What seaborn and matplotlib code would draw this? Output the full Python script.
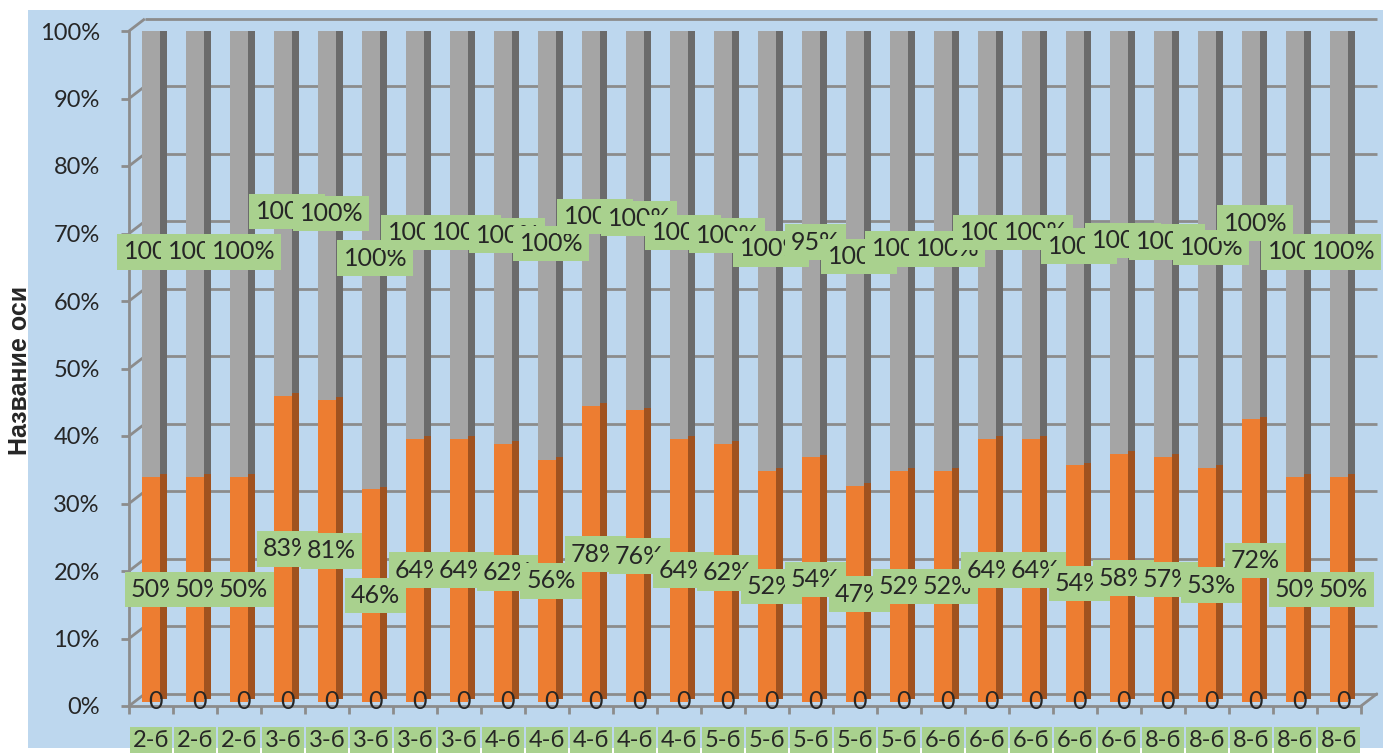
import matplotlib.pyplot as plt
import pandas as pd
import seaborn as sns
from matplotlib.patches import Rectangle

# Data
classes = (['2-б'] * 3 + ['3-б'] * 5 + ['4-б'] * 5
           + ['5-б'] * 5 + ['6-б'] * 5 + ['8-б'] * 5)
zero_vals = [0] * 28
orange_vals = [50, 50, 50, 83, 81, 46, 64, 64, 62, 56, 78, 76, 64, 62,
               52, 54, 47, 52, 52, 64, 64, 54, 58, 57, 53, 72, 50, 50]
gray_vals = [100] * 15 + [95] + [100] * 12
pct_ticks = [0, 10, 20, 30, 40, 50, 60, 70, 80, 90, 100]

# Colours
BLUE = '#BDD7EE'
ORANGE = '#ED7D31'
ORANGE_SIDE = '#A0521F'
GRAY = '#A5A5A5'
GRAY_SIDE = '#6B6B6B'
GRAY_TOP = '#8A8A8A'
GREEN = '#A9D18E'
FRAME = '#8C8C8C'

# fake 3D depth
DEPTH = 0.006
DX, DY = 0.36, 0.018
BAR_W = 0.42
SIDE_W = 0.15

df = pd.DataFrame({'pos': range(len(classes)),
                   'zero': zero_vals,
                   'orange': orange_vals,
                   'gray': gray_vals})
total = df['zero'] + df['orange'] + df['gray']
df['orange_share'] = (df['zero'] + df['orange']) / total
df['top_share'] = (df['zero'] + df['orange'] + df['gray']) / total

sns.set_style('white')
plt.rcParams['font.family'] = ['Lato', 'DejaVu Sans']

fig = plt.figure(figsize=(13.83, 7.53), dpi=100, facecolor='white')
fig.add_artist(Rectangle((28 / 1383, 5 / 753), 1 - 28 / 1383, 738 / 753,
                         transform=fig.transFigure, facecolor=BLUE,
                         edgecolor='none', zorder=-10))
ax = fig.add_axes([129 / 1383, 47 / 753, 1232 / 1383, 675 / 753])
ax.set_facecolor('none')

n = len(df)

# back wall gridlines and left wall diagonals
for t in pct_ticks:
    v = t / 100
    ax.plot([-0.5, -0.5 + DX], [v, v + DY], color=FRAME, lw=2,
            zorder=0.5, clip_on=False, solid_capstyle='butt')
    ax.plot([-0.5 + DX, n - 0.5 + DX], [v + DY, v + DY], color=FRAME,
            lw=2, zorder=0.5, clip_on=False, solid_capstyle='butt')
# right end of floor
ax.plot([n - 0.5, n - 0.5 + DX], [0, DY], color=FRAME, lw=2,
        zorder=0.5, clip_on=False)

# bars
sns.barplot(data=df, x='pos', y='top_share', color=GRAY, saturation=1,
            width=BAR_W, bottom=DEPTH, linewidth=0, ax=ax, zorder=2)
sns.barplot(data=df, x='pos', y='orange_share', color=ORANGE, saturation=1,
            width=BAR_W, bottom=DEPTH, linewidth=0, ax=ax, zorder=2.1)

# side faces
ax.bar(df['pos'] + BAR_W / 2, df['top_share'], width=SIDE_W,
       bottom=DEPTH + 0.004, align='edge', color=GRAY_SIDE, linewidth=0,
       zorder=1.9)
ax.bar(df['pos'] + BAR_W / 2, df['orange_share'], width=SIDE_W,
       bottom=DEPTH + 0.004, align='edge', color=ORANGE_SIDE, linewidth=0,
       zorder=2.05)
# top faces
for i, top in zip(df['pos'], df['top_share'] + DEPTH):
    ax.fill([i - BAR_W / 2, i + BAR_W / 2, i + BAR_W / 2 + SIDE_W,
             i - BAR_W / 2 + SIDE_W],
            [top, top, top + 0.007, top + 0.007],
            color=GRAY_TOP, linewidth=0, zorder=2.2)

# data labels (later boxes cover earlier ones, as in the reference)
box = dict(boxstyle='square,pad=0.25', facecolor=GREEN, edgecolor='none')
for i, (zv, ov, gv, osh, tsh) in enumerate(zip(
        zero_vals, orange_vals, gray_vals,
        df['orange_share'], df['top_share'])):
    x = i + 0.1
    ax.text(x, DEPTH + osh / 2, f'{ov}%', ha='center', va='center',
            fontsize=18, bbox=box, zorder=10 + i * 0.01)
    ax.text(x, DEPTH + (osh + tsh) / 2, f'{gv}%', ha='center',
            va='center', fontsize=18, bbox=box, zorder=10 + i * 0.01)
    ax.text(x, DEPTH, f'{zv}', ha='center', va='center',
            fontsize=18, zorder=20)

# axes
ax.set_xlim(-0.5, n - 0.5)
ax.set_ylim(0, 1)
ax.set_xlabel('')
ax.set_ylabel('')
ax.set_xticks(df['pos'], labels=classes)
ax.set_xticks([i - 0.5 for i in range(n + 1)], minor=True)
ax.set_yticks([t / 100 for t in pct_ticks],
              labels=[f'{t}%' for t in pct_ticks])
ax.tick_params(axis='x', which='major', length=0, pad=17, labelsize=17)
ax.tick_params(axis='x', which='minor', length=6, width=2, color=FRAME,
               bottom=True)
ax.tick_params(axis='y', length=6, width=2, color=FRAME, pad=15,
               labelsize=17, left=True)
for lbl in ax.get_xticklabels():
    lbl.set_bbox(dict(boxstyle='square,pad=0.12', facecolor=GREEN,
                      edgecolor='none'))
for side in ['top', 'right']:
    ax.spines[side].set_visible(False)
for side in ['left', 'bottom']:
    ax.spines[side].set_color(FRAME)
    ax.spines[side].set_linewidth(2)

fig.text(20 / 1383, 1 - 370 / 753, 'Название оси', rotation=90,
         ha='center', va='center', fontsize=18, fontweight='bold',
         family=['Liberation Sans', 'DejaVu Sans'])

fig.savefig('out.png', dpi=100)
